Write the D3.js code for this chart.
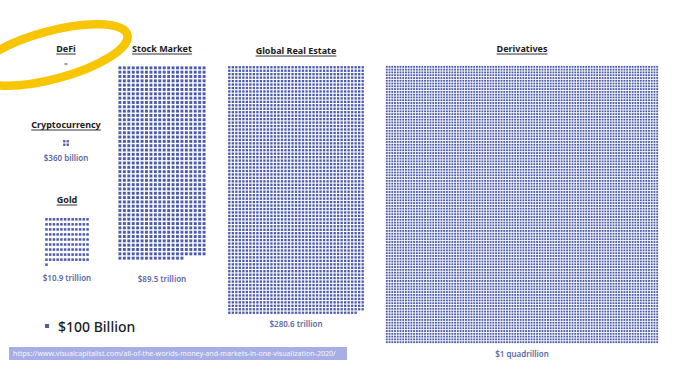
<!DOCTYPE html>
<html>
<head>
<meta charset="utf-8">
<script src="https://cdn.jsdelivr.net/npm/d3@7"></script>
<style>
  body { margin: 0; background: #fff; }
  text { font-family: "Noto Sans", "DejaVu Sans", sans-serif; }
</style>
</head>
<body>
<div id="chart"></div>
<script>
// each square = $100 billion
const markets = ["DeFi", "Cryptocurrency", "Gold", "Stock Market", "Global Real Estate", "Derivatives"];
const units = [0.13, 3.6, 109, 895, 2806, 10000]; // in $100B
const valueLabels = ["", "$360 billion", "$10.9 trillion", "$89.5 trillion", "$280.6 trillion", "$1 quadrillion"];
const legendLabel = "$100 Billion";
const source = "https://www.visualcapitalist.com/all-of-the-worlds-money-and-markets-in-one-visualization-2020/";

const width = 680, height = 379;

// layout boxes for each block (x0, x1, y0, y1), columns, title/label y
const boxes = [
  { x0: 63, x1: 69, y0: 63, y1: 65, cols: 1, ty: 52, ly: null },
  { x0: 62, x1: 70, y0: 139, y1: 147, cols: 2, ty: 128, ly: 161 },
  { x0: 44, x1: 90, y0: 216, y1: 268, cols: 12, ty: 203, ly: 281 },
  { x0: 117, x1: 207, y0: 65, y1: 261, cols: 20, ty: 52, ly: 282 },
  { x0: 227, x1: 365, y0: 65, y1: 315, cols: 39, ty: 54, ly: 327 },
  { x0: 385, x1: 659, y0: 65, y1: 344, cols: 100, ty: 52, ly: 357 }
];

const blue = "#4d5cab";

const svg = d3.select("#chart")
  .append("svg")
  .attr("width", width)
  .attr("height", height)
  .attr("viewBox", [0, 0, width, height]);

markets.forEach((name, i) => {
  const b = boxes[i];
  const n = Math.max(1, Math.round(units[i]));
  const rows = Math.ceil(n / b.cols);
  const cx = (b.x0 + b.x1) / 2;

  const x = d3.scaleBand().domain(d3.range(b.cols)).range([b.x0, b.x1]).padding(0.32);
  const y = d3.scaleBand().domain(d3.range(rows)).range([b.y0, b.y1]).padding(0.32);
  const side = Math.min(x.bandwidth(), y.bandwidth());

  const g = svg.append("g");

  if (units[i] < 1) {
    // DeFi is smaller than one square: a thin sliver
    g.append("rect")
      .attr("x", x(0))
      .attr("y", y(0) + y.bandwidth() / 2 - 0.6)
      .attr("width", x.bandwidth())
      .attr("height", 1.2)
      .attr("fill", "#666");
  } else {
    g.selectAll("rect")
      .data(d3.range(n))
      .join("rect")
      .attr("x", d => x(d % b.cols) + (x.bandwidth() - side) / 2)
      .attr("y", d => y(Math.floor(d / b.cols)) + (y.bandwidth() - side) / 2)
      .attr("width", side)
      .attr("height", side)
      .attr("fill", blue);
  }

  // title, underlined
  const t = g.append("text")
    .attr("x", cx)
    .attr("y", b.ty)
    .attr("text-anchor", "middle")
    .attr("font-size", 9)
    .attr("font-weight", 700)
    .attr("fill", "#1c1c1c")
    .text(name);
  const tw = t.node().getComputedTextLength();
  g.append("line")
    .attr("x1", cx - tw / 2).attr("x2", cx + tw / 2)
    .attr("y1", b.ty + 2).attr("y2", b.ty + 2)
    .attr("stroke", "#1c1c1c").attr("stroke-width", 0.9);

  if (b.ly) {
    g.append("text")
      .attr("x", cx)
      .attr("y", b.ly)
      .attr("text-anchor", "middle")
      .attr("font-size", 8)
      .attr("font-weight", 600)
      .attr("fill", "#5b69a6")
      .text(valueLabels[i]);
  }
});

// legend
svg.append("rect")
  .attr("x", 45).attr("y", 324)
  .attr("width", 4).attr("height", 4)
  .attr("fill", blue);
svg.append("text")
  .attr("x", 58).attr("y", 332)
  .attr("font-size", 14)
  .attr("font-weight", 500)
  .attr("fill", "#1c1c1c")
  .text(legendLabel);

// source bar
svg.append("rect")
  .attr("x", 9).attr("y", 347)
  .attr("width", 338).attr("height", 13)
  .attr("fill", "#a7aee6");
svg.append("text")
  .attr("x", 13).attr("y", 356)
  .attr("font-size", 7.1)
  .attr("fill", "#f4f5ff")
  .text(source);

// yellow highlight ring around DeFi
svg.append("ellipse")
  .attr("cx", 0).attr("cy", 0)
  .attr("rx", 78).attr("ry", 24)
  .attr("transform", "translate(52,55) rotate(-15)")
  .attr("fill", "none")
  .attr("stroke", "#f7c600")
  .attr("stroke-width", 8.5);
</script>
</body>
</html>
